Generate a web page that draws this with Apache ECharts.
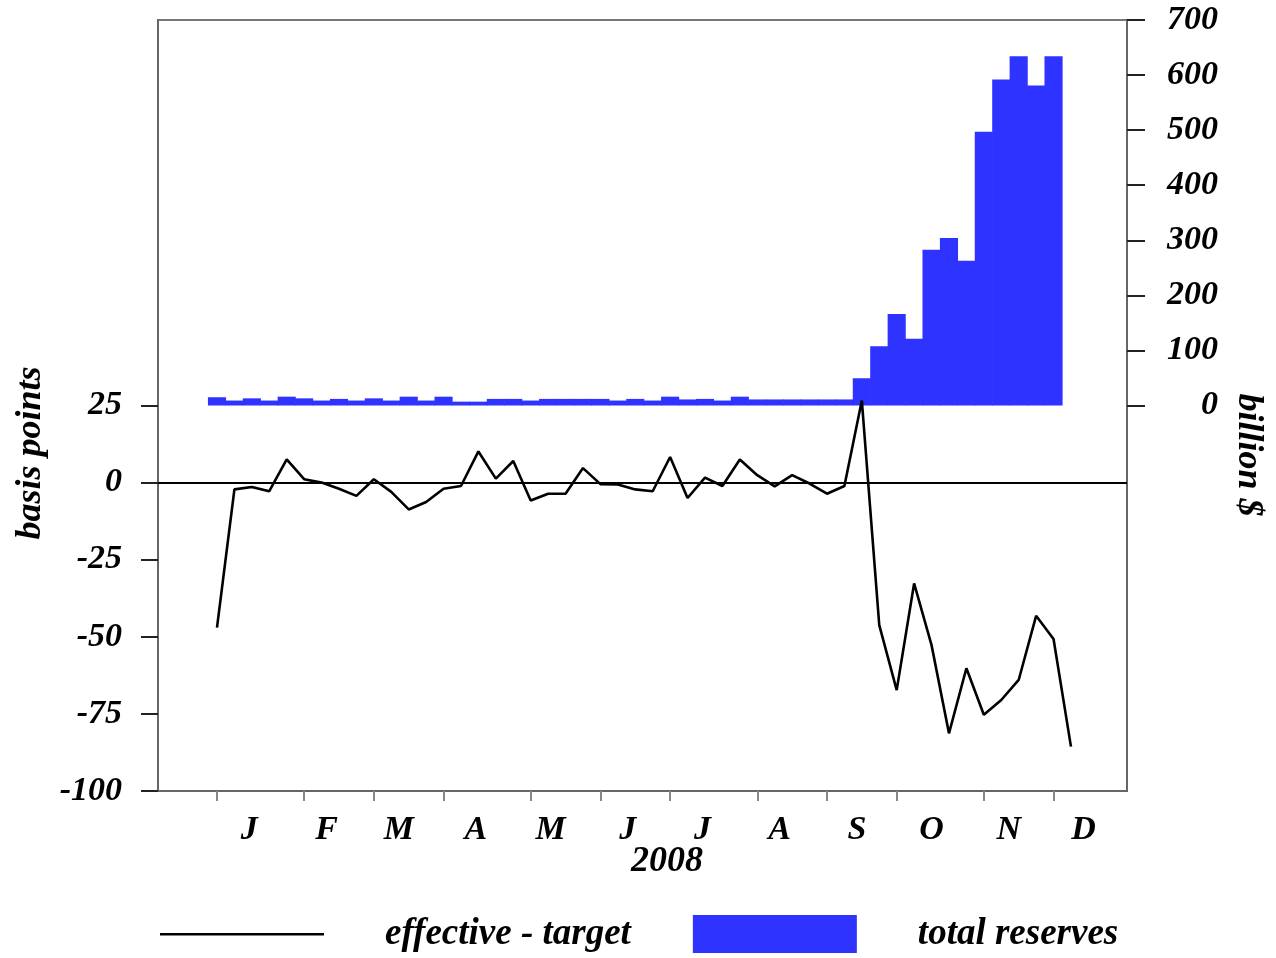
<!DOCTYPE html>
<html><head><meta charset="utf-8">
<script src="https://cdn.jsdelivr.net/npm/echarts@6/dist/echarts.min.js"></script>
<style>html,body{margin:0;padding:0;background:#fff}#c{width:1276px;height:958px}</style>
</head><body><div id="c"></div>
<script>
// weekly observations (Wednesdays) in 2008
const WEEK = 7 * 86400000;
const weeks = Array.from({length: 50}, (_, i) => Date.UTC(2008, 0, 2 + 7 * i));
const monthLetters = ['J','F','M','A','M','J','J','A','S','O','N','D'];
// effective - target fed funds rate, basis points
const spreadBp = [-47, -2.2, -1.4, -2.8, 7.5, 1.1, 0, -2, -4.3, 1.1, -3, -8.7, -6.3, -2, -1.1, 10.1, 1.3, 7.0, -5.8, -3.6,
  -3.6, 4.7, -0.5, -0.6, -2.2, -2.8, 8.3, -5, 1.6, -1.1, 7.5, 2.4, -1.2, 2.4, -0.3, -3.6, -1.1, 26.6, -46.2, -67.3,
  -32.7, -52.7, -81.3, -60.2, -75.3, -70.5, -64, -43.2, -50.7, -85.6];
// total reserves, billion $
const reserves = [15, 9, 13, 9, 16, 13, 9, 12, 9, 13, 9, 16, 9, 16, 7, 7, 12, 12, 9, 12,
  12, 12, 12, 9, 12, 9, 16, 11, 12, 9, 16, 11, 11, 11, 11, 11, 11, 49.5, 107.6, 166,
  121, 283, 304, 263, 497, 592, 634, 581, 634];
const leftTicks = [-100, -75, -50, -25, 0, 25];
const rightTicks = [0, 100, 200, 300, 400, 500, 600, 700];

const monthStarts = weeks.filter(t => new Date(t).getUTCDate() <= 7);
const monthMids = monthLetters.map((_, m) => Date.UTC(2008, m, 15));

const FONT = '"Liberation Serif", "Times New Roman", serif';
const lbl = {fontFamily: FONT, fontStyle: 'italic', fontWeight: 'bold', fontSize: 34, color: '#000'};
const LINE_ICON = 'path://M0,0L0.01,0L0,0.01Z M0,18L164,18L164,20.4L0,20.4Z M164,38L163.99,38L164,37.99Z';

const chart = echarts.init(document.getElementById('c'), null, {renderer: 'canvas'});
chart.setOption({
  animation: false,
  backgroundColor: '#fff',
  grid: {left: 158, right: 149, top: 20, bottom: 167, show: true, borderColor: '#777', borderWidth: 2, backgroundColor: 'transparent'},
  xAxis: {
    type: 'value',
    min: weeks[0] - 3.385 * WEEK,
    max: weeks[0] + 52.215 * WEEK,
    splitLine: {show: false},
    axisLine: {show: true, onZero: false, lineStyle: {color: '#666', width: 2}},
    axisTick: {show: true, customValues: monthStarts, length: 10, lineStyle: {color: '#888', width: 2}},
    axisLabel: Object.assign({customValues: monthMids, margin: 22,
      formatter: v => monthLetters[new Date(v).getUTCMonth()]}, lbl)
  },
  yAxis: [{
    type: 'value', min: -100, max: 150, position: 'left',
    splitLine: {show: false},
    axisLine: {show: true, lineStyle: {color: '#666', width: 2}},
    axisTick: {show: true, customValues: leftTicks, length: 17, lineStyle: {color: '#222', width: 2}},
    axisLabel: Object.assign({customValues: leftTicks, margin: 36}, lbl)
  }, {
    type: 'value', min: -700, max: 700, position: 'right',
    splitLine: {show: false},
    axisLine: {show: true, lineStyle: {color: '#666', width: 2}},
    axisTick: {show: true, customValues: rightTicks, length: 18, lineStyle: {color: '#222', width: 2}},
    axisLabel: Object.assign({customValues: rightTicks, margin: 91, align: 'right'}, lbl)
  }],
  legend: {
    left: 160, top: 915, padding: 0, itemWidth: 164, itemHeight: 38, itemGap: 62,
    textStyle: Object.assign({}, lbl, {fontSize: 37, padding: [0, 0, 0, 56]}),
    data: [
      {name: 'effective - target', icon: LINE_ICON, itemStyle: {color: '#000'}},
      {name: 'total reserves', icon: 'rect'}
    ]
  },
  graphic: [
    {type: 'text', x: 667, y: 862, style: {text: '2008', font: 'italic bold 36px ' + FONT, fill: '#000', textAlign: 'center', textVerticalAlign: 'middle'}},
    {type: 'text', x: 31, y: 453, rotation: Math.PI / 2, style: {text: 'basis points', font: 'italic bold 36px ' + FONT, fill: '#000', textAlign: 'center', textVerticalAlign: 'middle'}},
    {type: 'text', x: 1248, y: 455, rotation: -Math.PI / 2, style: {text: 'billion $', font: 'italic bold 36px ' + FONT, fill: '#000', textAlign: 'center', textVerticalAlign: 'middle'}}
  ],
  series: [{
    name: 'total reserves', type: 'bar', yAxisIndex: 1,
    data: reserves.map((v, i) => [weeks[i], v]),
    barWidth: '104%', barCategoryGap: '0%',
    itemStyle: {color: '#2f33ff', borderWidth: 0}, z: 1
  }, {
    name: 'effective - target', type: 'line', yAxisIndex: 0,
    data: spreadBp.map((v, i) => [weeks[i], v]),
    symbol: 'none', lineStyle: {color: '#000', width: 2.6}, itemStyle: {color: '#000'}, z: 3,
    markLine: {silent: true, symbol: 'none', label: {show: false},
      lineStyle: {color: '#000', width: 1.8, type: 'solid'}, data: [{yAxis: 0}]}
  }]
});
</script></body></html>
